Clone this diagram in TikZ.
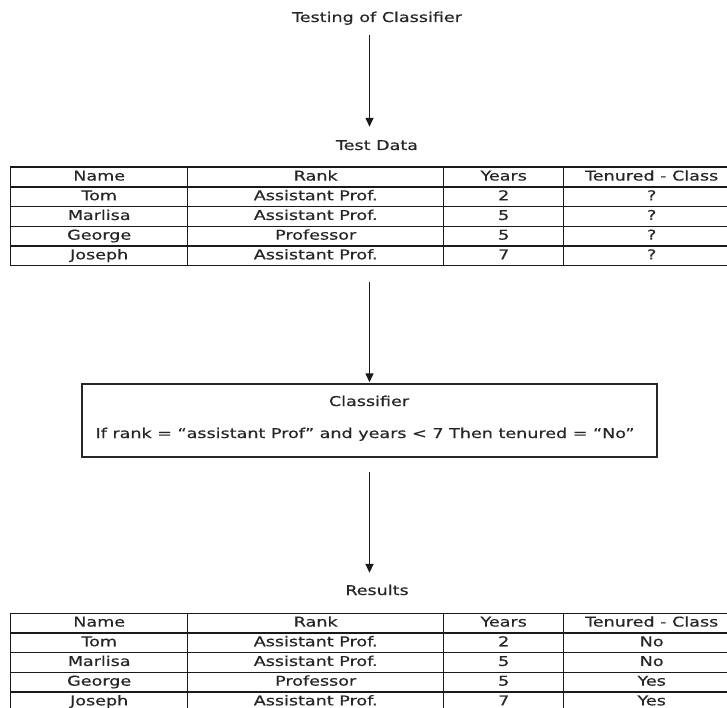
\documentclass[tikz,border=0pt]{standalone}
\usepackage{fontspec}
\setmainfont{DejaVu Sans}[FakeStretch=1.3,FakeBold=0.4]
\usetikzlibrary{arrows.meta,matrix}
\definecolor{ink}{HTML}{262626}
\definecolor{rulecol}{HTML}{1A1A1A}
\begin{document}
\begin{tikzpicture}[x=1pt,y=-1pt,
  txt/.style={font=\fontsize{13.5}{16}\selectfont, text=ink, inner sep=0pt},
  flow/.style={draw=rulecol, line width=1.5pt, -{Triangle[width=8pt,length=9pt]}},
  tbl/.style={matrix of nodes, anchor=north west, inner sep=0pt, outer sep=0pt,
    column sep=-1.4pt, row sep=-1.4pt,
    nodes={draw=rulecol, line width=1.4pt, txt, minimum height=19.7pt,
      text height=10pt, text depth=3pt, anchor=center},
    column 1/.style={nodes={minimum width=177pt}},
    column 2/.style={nodes={minimum width=256pt}},
    column 3/.style={nodes={minimum width=120pt}},
    column 4/.style={nodes={minimum width=176pt}}},
  clfbox/.style={draw=ink, line width=1.5pt, inner sep=0pt,
    minimum width=575pt, minimum height=73pt}]
\useasboundingbox (0,0) rectangle (727,708);
\fill[white] (0,0) rectangle (727,708);

% headings
\node[txt, anchor=base] (title) at (377,22) {Testing of Classifier};
\node[txt, anchor=base] (testdata) at (377,150) {Test Data};
\node[txt, anchor=base] (results) at (377,595) {Results};

% classifier box
\node[clfbox] (clf) at (369.5,420.5) {};
\node[txt, anchor=base] (clfname) at (369,406) {Classifier};
\node[txt, anchor=base] (clfrule) at (365,438) {If rank = “assistant Prof” and years < 7 Then tenured = “No”};

\begin{scope}
\clip (0,0) rectangle (727,708);
% test data table
\matrix (t1) [tbl] at (10,166.5) {
  Name & Rank & Years & Tenured - Class \\
  Tom & Assistant Prof. & 2 & ? \\
  Marlisa & Assistant Prof. & 5 & ? \\
  George & Professor & 5 & ? \\
  Joseph & Assistant Prof. & 7 & ? \\
};
% results table
\matrix (t2) [tbl] at (10,612.5) {
  Name & Rank & Years & Tenured - Class \\
  Tom & Assistant Prof. & 2 & No \\
  Marlisa & Assistant Prof. & 5 & No \\
  George & Professor & 5 & Yes \\
  Joseph & Assistant Prof. & 7 & Yes \\
};
\end{scope}

% flow arrows
\draw[flow, shorten <=9.8pt, shorten >=13.2pt]
  (title.south -| clf.north) -- (testdata.north -| clf.north);
\draw[flow, shorten <=16pt, shorten >=1pt]
  (t1.south -| clf.north) -- (clf.north);
\draw[flow, shorten <=14pt, shorten >=11.7pt]
  (clf.south) -- (results.north -| clf.south);
\end{tikzpicture}
\end{document}
